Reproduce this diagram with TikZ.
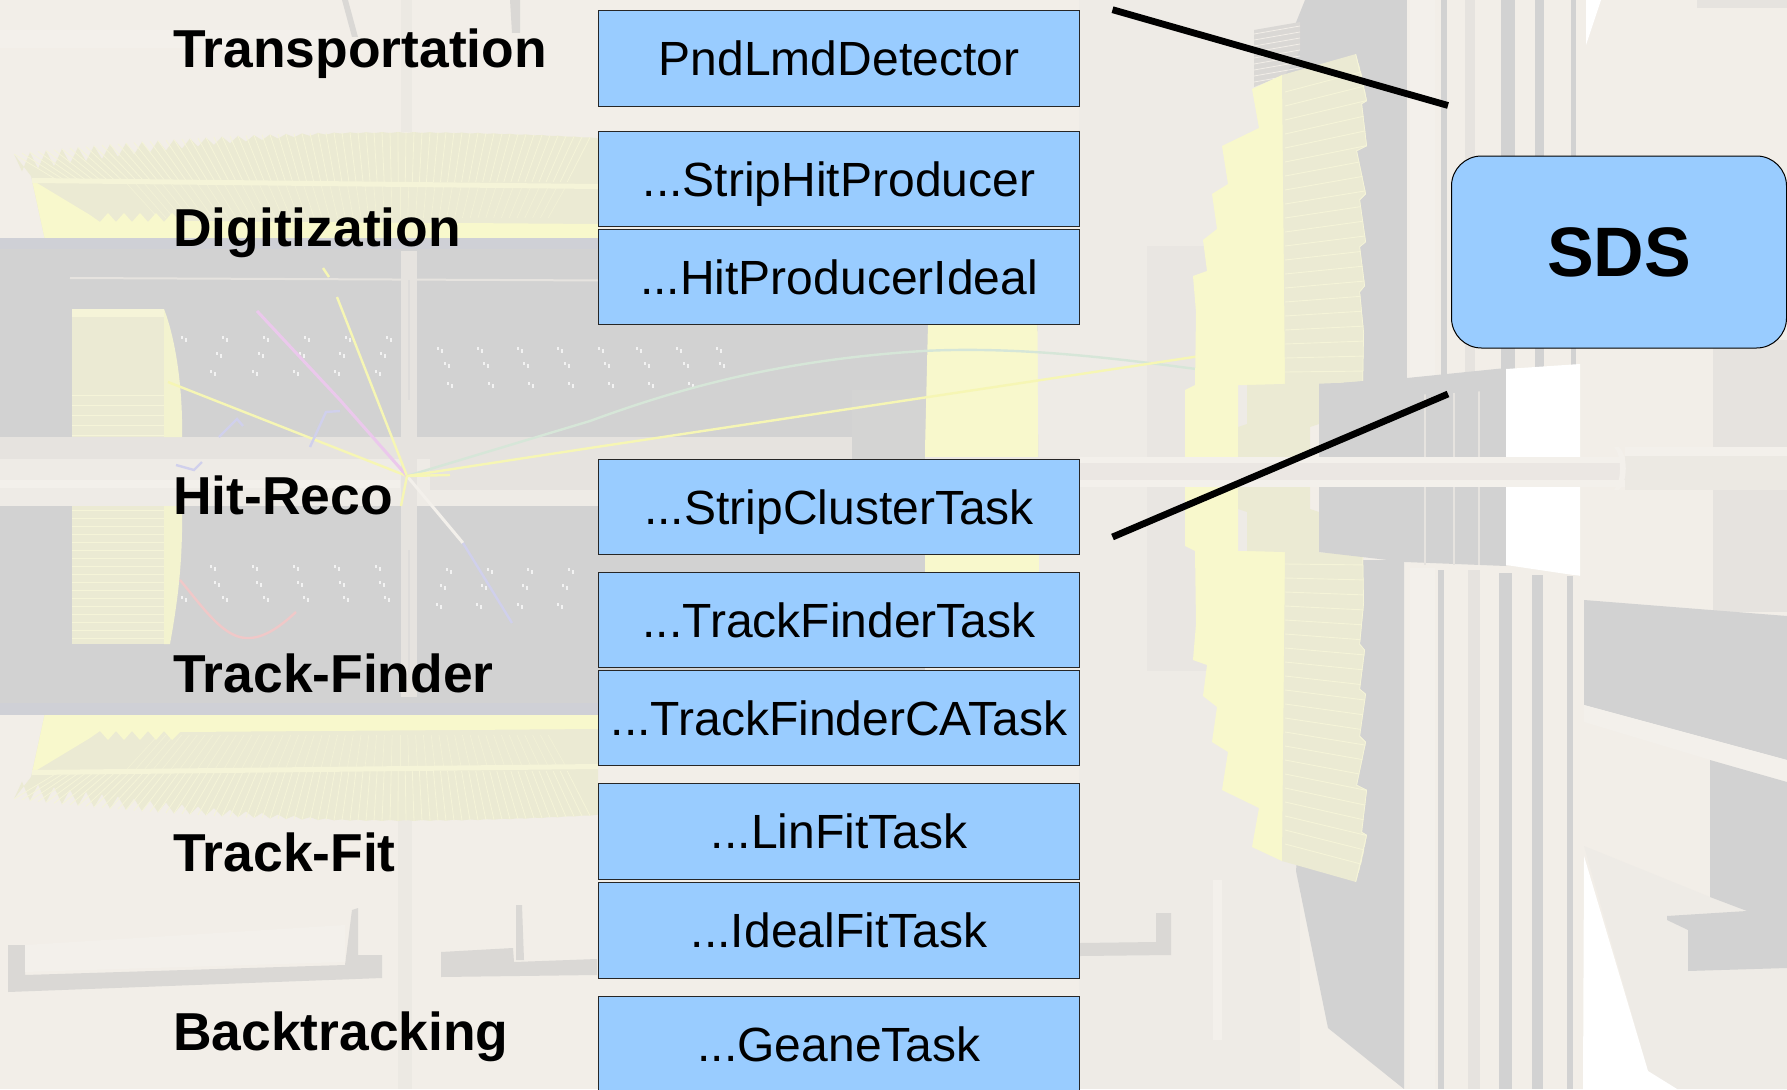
\documentclass[tikz,border=0pt]{standalone}
\usepackage{fontspec}
\setmainfont{Liberation Sans}
\definecolor{bgc}{HTML}{F2EEE8}
\definecolor{bgd}{HTML}{EEEBE6}
\definecolor{bge}{HTML}{E6E3DF}
\definecolor{gry}{HTML}{D2D2D2}
\definecolor{gryb}{HTML}{CFD0D6}
\definecolor{yel}{HTML}{F8F8CC}
\definecolor{gyl}{HTML}{EBEAD3}
\definecolor{lin}{HTML}{F5F4D8}
\definecolor{boxc}{HTML}{99CCFF}
\definecolor{rail}{HTML}{DAD8D5}
\definecolor{lgt}{HTML}{F3F0EB}
\definecolor{trky}{HTML}{F6F6B4}
\definecolor{trkp}{HTML}{EBC8EC}
\definecolor{trkb}{HTML}{D0D0EC}
\definecolor{trkr}{HTML}{F0C8C8}
\definecolor{trkg}{HTML}{D6E6D8}
\tikzset{
  x=1pt,y=-1pt,
  taskbox/.style={draw=black!85,line width=1pt,fill=boxc,minimum width=480.5pt,minimum height=95.5pt,inner sep=0pt,
    font=\fontsize{48}{48}\selectfont,text height=34pt,text depth=0pt,text=black},
  sdsbox/.style={draw=black,line width=1pt,fill=boxc,rounded corners=30pt,minimum width=335pt,minimum height=192pt,inner sep=0pt,
    font=\fontsize{70}{70}\selectfont\bfseries,text height=48pt,text depth=0pt},
  steplabel/.style={anchor=base west,inner sep=0pt,font=\fontsize{53.4}{54}\selectfont\bfseries,text=black},
  link/.style={line width=6.8pt,draw=black},
  trk/.style={line width=2.4pt},
  declare function={ytop(\x)=132+22*((\x-400)/385)*((\x-400)/385);
    tdep(\x)=max(0,(330-\x)/330)*17+1;}
}
\newcommand{\barrelshape}{%
  \fill[gyl] (31,176) \foreach \x in {14,30,...,590} { -- (\x,{ytop(\x)}) -- (\x+8,{ytop(\x)+tdep(\x)}) } -- (598,140) -- (598,240) -- (45,240) -- cycle;
  \foreach \x in {14,22,...,590} \draw[lin,line width=.8pt] (\x,{ytop(\x)}) -- ({\x+(400-\x)*.12},182);
  \foreach \x in {90,100,...,590} \draw[lin!70!gyl,line width=.7pt] ({\x+(400-\x)*.12},184) -- ({\x+(400-\x)*.22},218);
  \fill[yel] (32,180) -- (90,215) \foreach \x in {100,116,...,170} { -- (\x,222) -- (\x+8,213) } -- (180,221) -- (598,224) -- (598,240) -- (45,240) -- cycle;
  \fill[lin] (32,178) -- (598,184) -- (598,189) -- (32,183) -- cycle;
}
\newcommand{\capshape}{%
  \fill[yel] (1252,89) -- (1282,75) -- (1290,120) -- (1290,385) -- (1238,385) -- (1238,458) -- (1185,458) -- (1185,390) -- (1195,385) -- (1196,312) -- (1193,276) -- (1207,271) -- (1203,240) -- (1217,229) -- (1212,194) -- (1228,184) -- (1222,146) -- (1259,128) -- cycle;
  \begin{scope}
    \clip (1282,75) -- (1356,54) -- (1362,76) -- (1367,101) -- (1362,104) -- (1367,146) -- (1357,151) -- (1366,194) -- (1360,200) -- (1366,242) -- (1360,247) -- (1365,286) -- (1360,292) -- (1364,333) -- (1363,382) -- (1285,385) -- cycle;
    \fill[gyl] (1270,40) rectangle (1380,390);
    \foreach \y in {92,106,...,380} \draw[lin,line width=.9pt] (1285,\y) -- (1370,{\y-85*0.0009*(385-\y)});
    \draw[lin,line width=1.5pt] (1356,54) -- (1367,101) -- (1362,104) -- (1367,146) -- (1357,151) -- (1366,194) -- (1360,200) -- (1366,242) -- (1360,247) -- (1365,286) -- (1360,292) -- (1364,333) -- (1363,382);
  \end{scope}
  \fill[gyl] (1247,385) -- (1319,383) -- (1319,424) -- (1310,427) -- (1310,458) -- (1238,458) -- (1238,427) -- (1247,424) -- cycle;
}
\begin{document}
\begin{tikzpicture}
\useasboundingbox (0,0) rectangle (1787,1089);
\clip (0,0) rectangle (1787,1089);
% ---- background
\fill[bgc] (0,0) rectangle (1787,1089);
\fill[lgt] (0,30) rectangle (340,48);
\fill[rail] (342,0) -- (348,0) -- (358,37) -- (352,37) -- cycle;
\fill[rail] (510,0) -- (520,0) -- (520,33) -- (512,33) -- cycle;
\fill[bge!50!bgc] (401,0) rectangle (412,132);
\fill[bge!50!bgc] (398,815) rectangle (412,1089);
\fill[bgd] (1079,0) rectangle (1300,1089);
\fill[bge!60!bgd] (1147,246) rectangle (1207,671);
\fill[lgt] (1213,880) rectangle (1222,1040);
% ---- rails
\fill[rail] (8,945) -- (25,945) -- (25,975) -- (345,965) -- (352,910) -- (358,908) -- (358,955) -- (382,955) -- (382,978) -- (8,992) -- cycle;
\fill[lgt] (25,945) -- (345,925) -- (345,962) -- (25,972) -- cycle;
\fill[rail] (441,952) -- (513,948) -- (514,962) -- (597,959) -- (597,975) -- (441,977) -- cycle;
\fill[rail] (516,905) -- (522,905) -- (524,960) -- (516,960) -- cycle;
\fill[rail] (1080,943) -- (1156,942) -- (1156,913) -- (1171,913) -- (1171,955) -- (1080,956) -- cycle;
% ---- barrel
\barrelshape
\begin{scope}[shift={(0,953)},yscale=-1]\barrelshape\end{scope}
\fill[gry] (0,238) rectangle (1079,715);
\fill[gryb] (0,238) rectangle (930,249);
\fill[gryb] (0,703) rectangle (930,715);
\draw[bge,line width=2pt] (70,278) -- (930,282);
\fill[gry!90!bge] (852,390) rectangle (930,459);
% yellow strip
\fill[yel] (930,238) -- (1037,238) -- (1040,619) -- (925,619) -- (925,450) -- cycle;
\fill[bgd] (1037,238) -- (1079,238) -- (1079,715) -- (1040,715) -- cycle;
\fill[bgd] (925,619) rectangle (1079,715);
% beam band
\fill[bge] (0,437) rectangle (852,459);
\fill[bgd] (0,459) rectangle (600,506);
\fill[lgt] (0,480) rectangle (400,488);
\fill[bge] (430,459) rectangle (925,490);
\fill[bge!70!gry] (600,490) rectangle (925,506);
% central post
\fill[bge] (401,251) rectangle (417,697);
\draw[bge!60!gry,line width=2pt] (409,280) -- (409,400);
\draw[bge!60!gry,line width=2pt] (409,550) -- (409,680);
% left endcap
\fill[gyl] (72,309) rectangle (164,437);
\fill[lin] (72,309) rectangle (164,317);
\fill[yel!60!gyl] (164,309) .. controls (176,340) and (183,390) .. (182,437) -- (164,437) -- cycle;
\fill[gyl] (72,506) rectangle (164,644);
\foreach \y in {510,518,...,640} \draw[lin,line width=.7pt] (72,\y) -- (164,\y);
\foreach \y in {395,405,...,435} \draw[lin,line width=.7pt] (72,\y) -- (164,\y);
\fill[yel!60!gyl] (164,506) -- (182,506) .. controls (183,560) and (178,600) .. (170,644) -- (164,644) -- cycle;
% hits
\newcommand{\hitrow}[2]{\foreach \x in {#2} {\draw[gray!10,line width=1.2pt] (\x,#1-3) -- (\x,#1) (\x+4,#1-1) -- (\x+4,#1+3);}}
\hitrow{339}{182,223,264,305,346,387}
\hitrow{355}{217,259,300,340,381}
\hitrow{373}{211,253,294,335,376}
\hitrow{350}{438,478,518,558,599,637,677,717}
\hitrow{365}{445,484,524,565,605,645,684,720}
\hitrow{385}{448,489,529,569,609,649,689}
\hitrow{568}{211,253,294,335,376}
\hitrow{584}{215,257,298,340,380}
\hitrow{599}{182,223,264,304,344,385}
\hitrow{571}{447,488,528,569}
\hitrow{587}{441,482,523,563}
\hitrow{606}{437,477,518,558}
% ---- tracks
\coordinate (vtx) at (407,476);
\draw[trk,draw=trky] (168,382) -- (vtx);
\draw[trk,draw=trkp,line width=3pt] (257,311) -- (340,400) -- (vtx);
\draw[trk,draw=trky] (337,297) -- (vtx);
\draw[trk,draw=trky] (323,268) -- (329,277);
\draw[trk,draw=trkb] (219,437) -- (237,419) -- (243,426);
\draw[trk,draw=trkb] (310,447) -- (326,412) -- (340,411);
\draw[trk,draw=trkb] (176,465) -- (194,470) -- (202,462);
\draw[trk,draw=lgt,line width=3pt] (vtx) -- (463,543);
\draw[trk,draw=trkb] (463,543) -- (512,623);
\draw[trk,draw=trkr] (180,580) .. controls (205,610) and (225,640) .. (250,638) .. controls (268,637) and (285,622) .. (296,612);
\draw[trk,draw=trkg] (vtx) -- (590,421) .. controls (680,388) and (780,360) .. (923,351) .. controls (1040,345) and (1160,365) .. (1243,375);
\draw[trk,draw=trky] (vtx) -- (590,448) -- (1260,347);
\draw[trk,draw=trky] (401,506) -- (vtx);
\draw[trk,draw=trky] (vtx) -- (450,475);
% ---- right side
\fill[gry] (1305,0) -- (1407,0) -- (1407,385) -- (1290,385) -- (1265,100) -- cycle;
\fill[gry] (1296,871) -- (1328,1028) -- (1404,1089) -- (1404,560) -- (1320,560) -- cycle;
% mesh
\fill[rail] (1254,30) -- (1300,22) -- (1300,50) -- (1285,75) -- (1254,87) -- cycle;
\foreach \y in {34,40,...,84} \draw[bgc,line width=.8pt] (1254,\y) -- (1300,\y-8);
% calorimeter
\capshape
\begin{scope}[shift={(0,936)},yscale=-1]\capshape\end{scope}
% mid grey
\fill[gry] (1319,385) -- (1506,368) -- (1506,566) -- (1405,562) -- (1319,552) -- cycle;
\foreach \x in {1425,1454,1479} \draw[bge,line width=1.2pt] (\x,375) -- (\x,565);
% upper column
\fill[bgc] (1407,0) rectangle (1586,378);
\fill[gry] (1441,0) rectangle (1447,378);
\fill[bge] (1465,0) rectangle (1475,378);
\fill[gry] (1501,0) rectangle (1515,378);
\fill[gry] (1535,0) rectangle (1544,378);
\fill[gry] (1571,0) rectangle (1576,378);
\fill[lgt] (1410,0) rectangle (1435,378);
\fill[gry] (1319,385) -- (1407,378) -- (1506,368) -- (1506,390) -- (1319,400) -- cycle;
\fill[white] (1586,0) -- (1601,0) -- (1586,45) -- cycle;
% white block
\fill[white] (1506,369) -- (1580,364) -- (1580,576) -- (1506,565) -- cycle;
% lower column
\fill[bgc] (1405,565) -- (1583,576) -- (1583,1089) -- (1405,1089) -- cycle;
\fill[gry] (1438,570) rectangle (1444,1089);
\fill[bge] (1468,570) rectangle (1480,1089);
\fill[gry] (1499,573) rectangle (1512,1089);
\fill[gry] (1532,575) rectangle (1543,1089);
\fill[gry] (1567,576) rectangle (1573,1089);
\fill[lgt] (1410,568) rectangle (1435,1089);
% far right
\fill[bge] (1697,0) rectangle (1787,8);
\fill[bge] (1713,340) rectangle (1787,612);
\fill[gry] (1584,600) -- (1787,616) -- (1787,760) -- (1584,705) -- cycle;
\fill[lgt] (1584,705) -- (1787,760) -- (1787,783) -- (1584,722) -- cycle;
\fill[bgd] (1584,846) -- (1710,897) -- (1787,915) -- (1787,1089) -- (1677,1089) -- (1648,1071) -- cycle;
\fill[white] (1584,856) -- (1648,1071) -- (1677,1089) -- (1583,1089) -- cycle;
\fill[gry] (1710,760) -- (1787,782) -- (1787,968) -- (1688,971) -- (1688,930) -- (1667,920) -- (1667,916) -- (1747,911) -- (1710,897) -- cycle;
% pipe
\fill[bge!60!bgc] (925,457) rectangle (1787,487);
\fill[lgt] (925,480) rectangle (1787,487);
\fill[lgt] (1079,457) rectangle (1625,463);
\fill[bge!50!bgc] (1625,447) rectangle (1787,490);
\fill[lgt] (1625,447) rectangle (1787,456);
\fill[lgt] (1619,447) .. controls (1628,455) and (1628,482) .. (1619,490) -- (1614,490) .. controls (1622,482) and (1622,455) .. (1614,447) -- cycle;
% ---- connector lines
\node[sdsbox] (sds) at (1619,252) {SDS};
\coordinate (a1) at (1112.5,9.7);
\coordinate (a2) at (1448,105.5);
\coordinate (b1) at (1112.5,537);
\coordinate (b2) at (1448,394);
\draw[link] (a1) -- (a2);
\draw[link] (b1) -- (b2);
% ---- task boxes
\node[taskbox] (t1) at (839,58.5) {PndLmdDetector};
\node[taskbox] (t2) at (839,179) {...StripHitProducer};
\node[taskbox] (t3) at (839,277) {...HitProducerIdeal};
\node[taskbox] (t4) at (839,507) {...StripClusterTask};
\node[taskbox] (t5) at (839,620) {...TrackFinderTask};
\node[taskbox] (t6) at (839,718) {...TrackFinderCATask};
\node[taskbox] (t7) at (839,831.5) {...LinFitTask};
\node[taskbox] (t8) at (839,930.5) {...IdealFitTask};
\node[taskbox] (t9) at (839,1044) {...GeaneTask};
% ---- labels
\node[steplabel] (l1) at (173,68) {Transportation};
\node[steplabel] (l2) at (173,246.5) {Digitization};
\node[steplabel] (l3) at (173,514) {Hit-Reco};
\node[steplabel] (l4) at (173,692.5) {Track-Finder};
\node[steplabel] (l5) at (173,871.5) {Track-Fit};
\node[steplabel] (l6) at (173,1050) {Backtracking};
\end{tikzpicture}
\end{document}
